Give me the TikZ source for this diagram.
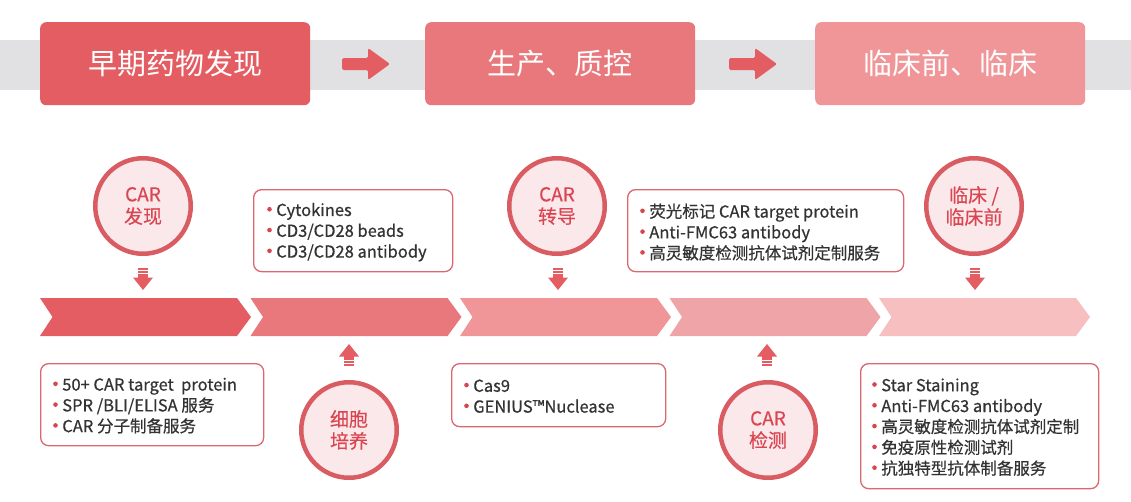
\documentclass[tikz,border=0pt]{standalone}
\usepackage{fontspec}
\setmainfont{Noto Sans CJK SC}
\newfontfamily\medfont[FakeBold=0.55]{Noto Sans CJK SC}
\newfontfamily\semifont[FakeBold=0.3]{Noto Sans CJK SC}
\usetikzlibrary{calc}
\definecolor{cA}{HTML}{E35D62}
\definecolor{cB}{HTML}{E8787B}
\definecolor{cC}{HTML}{F09598}
\definecolor{cD}{HTML}{EFA4A7}
\definecolor{cE}{HTML}{F8BFC1}
\definecolor{band}{HTML}{E1E1E3}
\definecolor{cborder}{HTML}{D95C63}
\definecolor{cfill}{HTML}{FBE8EA}
\definecolor{ctext}{HTML}{D94550}
\definecolor{lborder}{HTML}{DB6770}
\definecolor{ltext}{HTML}{333333}
\definecolor{cbul}{HTML}{D94450}
\definecolor{iconc}{HTML}{E35D62}
\newcommand\bdot{\textcolor{cbul}{\raisebox{0.27em}{\tikz\fill (0,0) circle (2.3pt);}}\hspace{4.5pt}}
\begin{document}
\begin{tikzpicture}[x=1pt,y=-1pt,
  title/.style={rounded corners=6pt, minimum width=270pt, minimum height=83pt, inner sep=0pt,
    text=white, font=\fontsize{29}{34}\selectfont, anchor=north west},
  stage/.style={circle, draw=cborder, fill=cfill, line width=4.5pt, minimum size=95.5pt,
    inner sep=0pt, text=ctext, align=center, font=\semifont\fontsize{19}{22}\selectfont},
  listbox/.style={draw=lborder, line width=1.3pt, rounded corners=8pt, fill=white,
    anchor=north west, inner sep=0pt},
  listtext/.style={anchor=west, align=left, inner sep=0pt, text=ltext,
    font=\medfont\fontsize{16.5}{20.8}\selectfont},
  downarr/.pic={
    \fill[iconc] (-10,-12.5) -- (10,-12.5) -- (0,0) -- cycle;
    \fill[iconc] (-5,-15.8) rectangle (5,-12.4);
    \fill[iconc] (-5,-19.2) rectangle (5,-17.0);
    \fill[iconc] (-5,-22.4) rectangle (5,-20.4);
  },
  uparr/.pic={
    \fill[iconc] (-10,12.5) -- (10,12.5) -- (0,0) -- cycle;
    \fill[iconc] (-5,15.8) rectangle (5,12.4);
    \fill[iconc] (-5,19.2) rectangle (5,17.0);
    \fill[iconc] (-5,22.4) rectangle (5,20.4);
  },
  rightarr/.pic={
    \fill[iconc, rounded corners=1.5pt] (0,-6) -- (26,-6) -- (26,-16) -- (48,0) -- (26,16) -- (26,6) -- (0,6) -- cycle;
  }
]
\useasboundingbox (0,0) rectangle (1131,501);
\fill[white] (0,0) rectangle (1131,501);

% grey band
\fill[band] (0,40) rectangle (1131,90);

% title boxes
\node[title, fill=cA] (t1) at (40,22) {早期药物发现};
\node[title, fill=cB] (t2) at (425,22) {生产、质控};
\node[title, fill=cC] (t3) at (815,22) {临床前、临床};
\pic at (342,64) {rightarr};
\pic at (729,64) {rightarr};

% chevrons
\foreach \L/\c in {40/cA, 250.5/cB, 460/cC, 669.5/cD, 879/cE}{
  \fill[\c] (\L,298) -- ({\L+197},298) -- ({\L+211},317) -- ({\L+197},336) -- (\L,336) -- ({\L+12.5},317) -- cycle;
}

% stage circles
\node[stage] (s1) at (143,206) {CAR\\发现};
\node[stage] (s2) at (557,206) {CAR\\转导};
\node[stage] (s3) at (974,206) {临床 /\\临床前};
\node[stage] (s4) at (349,430) {细胞\\培养};
\node[stage] (s5) at (768,430) {CAR\\检测};

% arrow icons
\pic at (143,290) {downarr};
\pic at (558,290) {downarr};
\pic at (975,290) {downarr};
\pic at (349,344) {uparr};
\pic at (767,344) {uparr};

% list boxes
\node[listbox, minimum width=199pt, minimum height=82pt] (bA) at (253,189) {};
\node[listtext] (bAt) at ([xshift=14pt,yshift=-1.5pt]bA.west) {\bdot Cytokines\\\bdot CD3/CD28 beads\\\bdot CD3/CD28 antibody};

\node[listbox, minimum width=276pt, minimum height=82pt] (bB) at (627,189) {};
\node[listtext] (bBt) at ([xshift=13pt,yshift=-1.5pt]bB.west) {\bdot 荧光标记 CAR target protein\\\bdot Anti-FMC63 antibody\\\bdot 高灵敏度检测抗体试剂定制服务};

\node[listbox, minimum width=223pt, minimum height=82pt] (bC) at (40,363) {};
\node[listtext] (bCt) at ([xshift=13pt,yshift=-1pt]bC.west) {\bdot 50+ CAR target~ protein\\\bdot SPR /BLI/ELISA 服务\\\bdot CAR 分子制备服务};

\node[listbox, minimum width=214pt, minimum height=63pt] (bD) at (451,363) {};
\node[listtext] (bDt) at ([xshift=13pt,yshift=-1pt]bD.west) {\bdot Cas9\\\bdot GENIUS™Nuclease};

\node[listbox, minimum width=238pt, minimum height=125pt] (bE) at (860,363) {};
\node[listtext] (bEt) at ([xshift=12pt,yshift=-1pt]bE.west) {\bdot Star Staining\\\bdot Anti-FMC63 antibody\\\bdot 高灵敏度检测抗体试剂定制\\\bdot 免疫原性检测试剂\\\bdot 抗独特型抗体制备服务};
\end{tikzpicture}
\end{document}
